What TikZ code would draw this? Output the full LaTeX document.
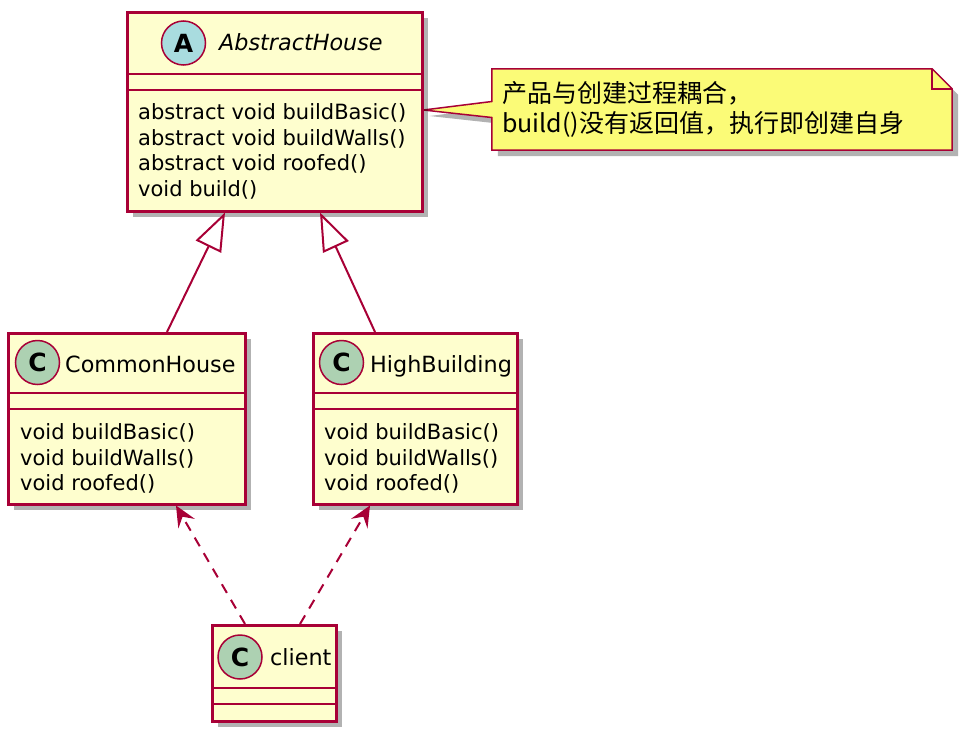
\documentclass[tikz,border=0pt]{standalone}
\usepackage{fontspec}
\setmainfont{DejaVu Sans}
\newfontfamily\cjk{Noto Sans CJK SC}
\usetikzlibrary{arrows.meta,shadows,backgrounds}
\definecolor{umlred}{HTML}{A80036}
\definecolor{umlfill}{HTML}{FEFECE}
\definecolor{notefill}{HTML}{FBFB77}
\definecolor{abscirc}{HTML}{A9DCDF}
\definecolor{clscirc}{HTML}{ADD1B2}

\begin{document}
\begin{tikzpicture}[x=1pt, y=-1pt, >=Stealth,
  font=\fontsize{21}{25.5}\selectfont,
  cls/.style={draw=umlred, line width=2.5pt, fill=umlfill, anchor=north west, inner sep=0pt,
    drop shadow={shadow xshift=6pt, shadow yshift=-6pt, fill=black, opacity=0.3}},
  sep/.style={draw=umlred, line width=2.5pt},
  badge/.style={circle, draw=umlred, line width=1.5pt, minimum size=44pt, inner sep=0pt,
    font=\fontsize{25}{25}\selectfont\bfseries},
  title/.style={anchor=base west, inner sep=0pt, font=\fontsize{22.3}{26}\selectfont},
  members/.style={anchor=north west, inner sep=0pt, align=left},
  notetext/.style={minimum width=460pt, minimum height=81pt, text width=440pt, inner xsep=10pt,
    inner ysep=0pt, align=left, font=\cjk\fontsize{25}{29.5}\selectfont},
  notebox/.style={draw=umlred, line width=1.5pt, fill=notefill, line join=miter,
    drop shadow={shadow xshift=6pt, shadow yshift=-6pt, fill=black, opacity=0.3}},
  isa/.style={draw=umlred, line width=2pt, -{Triangle[open, length=38pt, width=28pt]}},
  uses/.style={draw=umlred, line width=2pt, dash pattern=on 10pt off 8pt,
    -{Stealth[length=21pt, width=19pt, inset=8pt]}}]

  \useasboundingbox (0,0) rectangle (966,736);

  % ---- abstract parent ----
  \node[cls, minimum width=295pt, minimum height=199pt] (abs) at (126,11) {};
  \draw[sep] ([yshift=-63pt]abs.north west) -- ([yshift=-63pt]abs.north east);
  \draw[sep] ([yshift=-79pt]abs.north west) -- ([yshift=-79pt]abs.north east);
  \node[badge, fill=abscirc] (absA) at (183.5,43) {A};
  \node[title, font=\fontsize{22.3}{26}\selectfont\itshape] (absT) at (219,50) {AbstractHouse};
  \node[members] (absM) at (138,103.5)
    {abstract void buildBasic()\\ abstract void buildWalls()\\ abstract void roofed()\\ void build()};

  % ---- the two concrete houses ----
  \node[cls, minimum width=237pt, minimum height=171pt] (ch) at (7,332) {};
  \draw[sep] ([yshift=-61pt]ch.north west) -- ([yshift=-61pt]ch.north east);
  \draw[sep] ([yshift=-77pt]ch.north west) -- ([yshift=-77pt]ch.north east);
  \node[badge, fill=clscirc] (chC) at (37.5,362.5) {C};
  \node[title] (chT) at (65,372) {CommonHouse};
  \node[members] (chM) at (20,423.5)
    {void buildBasic()\\ void buildWalls()\\ void roofed()};

  \node[cls, minimum width=204pt, minimum height=171pt] (hb) at (312,332) {};
  \draw[sep] ([yshift=-61pt]hb.north west) -- ([yshift=-61pt]hb.north east);
  \draw[sep] ([yshift=-77pt]hb.north west) -- ([yshift=-77pt]hb.north east);
  \node[badge, fill=clscirc] (hbC) at (341.5,362.5) {C};
  \node[title] (hbT) at (370,372) {HighBuilding};
  \node[members] (hbM) at (324,423.5)
    {void buildBasic()\\ void buildWalls()\\ void roofed()};

  % ---- client ----
  \node[cls, minimum width=124pt, minimum height=96pt] (cl) at (211,624) {};
  \draw[sep] ([yshift=-64pt]cl.north west) -- ([yshift=-64pt]cl.north east);
  \draw[sep] ([yshift=-80pt]cl.north west) -- ([yshift=-80pt]cl.north east);
  \node[badge, fill=clscirc] (clC) at (240,657) {C};
  \node[title] (clT) at (270,665) {client};

  % ---- note on buildBasic() ----
  \coordinate (tip) at ([yshift=-99pt]abs.north east);
  \node[notetext] (note) at (722,109.5)
    {产品与创建过程耦合，\\build()没有返回值，执行即创建自身};
  \begin{scope}[on background layer]
    \draw[notebox] (note.north west) -- ([xshift=-20pt]note.north east)
      -- ([yshift=-20pt]note.north east) -- (note.south east) -- (note.south west)
      -- ([yshift=-8pt]note.west) -- (tip) -- ([yshift=8pt]note.west) -- cycle;
    \draw[draw=umlred, line width=1.5pt] ([xshift=-20pt]note.north east) |- ([yshift=-20pt]note.north east);
  \end{scope}

  % ---- inheritance and use ----
  \draw[isa] ([xshift=160pt]ch.north west) -- ([xshift=99pt]abs.south west);
  \draw[isa] ([xshift=63pt]hb.north west) -- ([xshift=194pt]abs.south west);
  \draw[uses] ([xshift=34pt]cl.north west) -- ([xshift=169pt]ch.south west);
  \draw[uses] ([xshift=89pt]cl.north west) -- ([xshift=58pt]hb.south west);

\end{tikzpicture}
\end{document}
